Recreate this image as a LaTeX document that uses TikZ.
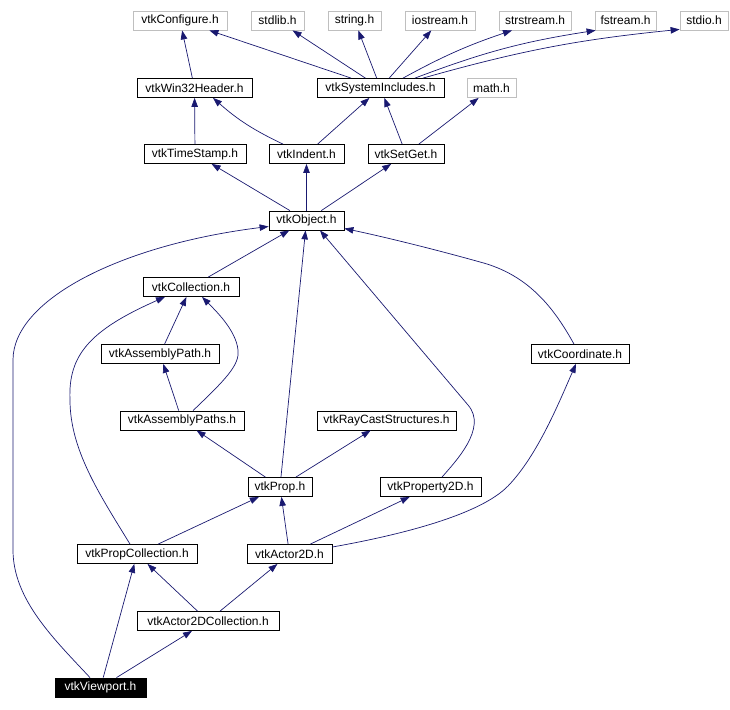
\documentclass[tikz,border=0pt]{standalone}
\usepackage{fontspec}
\setmainfont{Liberation Sans}
\usetikzlibrary{arrows.meta}
\definecolor{edgeblue}{RGB}{25,25,112}
\definecolor{sysgray}{RGB}{191,191,191}

\begin{document}
\begin{tikzpicture}[x=1pt, y=-1pt,
    hdr/.style={draw=black, fill=white, line width=0.8pt, inner sep=0pt,
                minimum height=19pt, font=\fontsize{12pt}{14pt}\selectfont},
    sys/.style={hdr, draw=sysgray},
    self/.style={hdr, fill=black, text=white},
    dep/.style={draw=edgeblue, line width=0.7pt, -{Triangle[length=9pt,width=6.5pt]}}]
    % Fix the page size
    \useasboundingbox (0,0) rectangle (730,709);

    % Define row heights
    \pgfmathsetmacro{\rowA}{20.5}
    \pgfmathsetmacro{\rowB}{88}
    \pgfmathsetmacro{\rowC}{154}
    \pgfmathsetmacro{\rowD}{220.5}

    % System headers
    \node[sys, minimum width=94pt] (cfg) at (180,\rowA) {vtkConfigure.h};
    \node[sys, minimum width=53pt] (stdlib) at (277.5,\rowA) {stdlib.h};
    \node[sys, minimum width=53pt] (string) at (354.5,\rowA) {string.h};
    \node[sys, minimum width=70pt] (iostream) at (440,\rowA) {iostream.h};
    \node[sys, minimum width=72pt] (strstream) at (535,\rowA) {strstream.h};
    \node[sys, minimum width=61pt] (fstream) at (625.5,\rowA) {fstream.h};
    \node[sys, minimum width=48pt] (stdio) at (704,\rowA) {stdio.h};
    \node[sys, minimum width=49pt] (math) at (491.5,\rowB) {math.h};

    % Upper headers
    \node[hdr, minimum width=115pt] (w32) at (194.5,\rowB) {vtkWin32Header.h};
    \node[hdr, minimum width=127pt] (si) at (380.5,\rowB) {vtkSystemIncludes.h};
    \node[hdr, minimum width=102pt] (ts) at (195,\rowC) {vtkTimeStamp.h};
    \node[hdr, minimum width=75pt] (ind) at (306.5,\rowC) {vtkIndent.h};
    \node[hdr, minimum width=76pt] (sg) at (406,\rowC) {vtkSetGet.h};
    \node[hdr, minimum width=75pt] (obj) at (306.5,\rowD) {vtkObject.h};

    % Lower headers
    \node[hdr, minimum width=96pt] (col) at (191,287) {vtkCollection.h};
    \node[hdr, minimum width=118pt] (ap) at (160,354) {vtkAssemblyPath.h};
    \node[hdr, minimum width=98pt] (coord) at (580,354) {vtkCoordinate.h};
    \node[hdr, minimum width=124pt] (aps) at (182,420.5) {vtkAssemblyPaths.h};
    \node[hdr, minimum width=139pt] (rcs) at (386.5,420.5) {vtkRayCastStructures.h};
    \node[hdr, minimum width=64pt] (prop) at (280,487) {vtkProp.h};
    \node[hdr, minimum width=101pt] (p2d) at (430.5,487) {vtkProperty2D.h};
    \node[hdr, minimum width=120pt] (pc) at (137,554) {vtkPropCollection.h};
    \node[hdr, minimum width=85pt] (a2d) at (289.5,554) {vtkActor2D.h};
    \node[hdr, minimum width=142pt] (a2dc) at (208,621) {vtkActor2DCollection.h};
    \node[self, minimum width=91pt] (vp) at (100.5,687.5) {vtkViewport.h};

    % Top includes
    \draw[dep] (w32) -- (cfg);
    \draw[dep] (si) -- (cfg);
    \draw[dep] (si) -- (stdlib);
    \draw[dep] (si) -- (string);
    \draw[dep] (si) -- (iostream);
    \draw[dep] ([xshift=22.5pt]si.north) to[bend left=5] ([xshift=-23pt]strstream.south);
    \draw[dep] ([xshift=34.5pt]si.north) to[bend left=6] ([xshift=1pt]fstream.south west);
    \draw[dep] ([xshift=42.5pt]si.north) to[bend left=5] ([yshift=1pt]stdio.south west);
    \draw[dep] (ts) -- (w32);
    \draw[dep] ([xshift=-23.5pt]ind.north) to[bend left=8] ([xshift=18.5pt]w32.south);
    \draw[dep] (ind) -- (si);
    \draw[dep] (sg) -- (si);
    \draw[dep] (sg) -- (math);
    \draw[dep] (obj) -- (ts);
    \draw[dep] (obj) -- (ind);
    \draw[dep] (obj) -- (sg);

    % Includes of vtkObject.h
    \draw[dep] (col) -- (obj);
    \draw[dep] (prop) -- (obj);
    \draw[dep] ([xshift=-10.5pt]vp.north) .. controls (55,640) and (13,600) .. (13,550)
        -- (13,360) .. controls (13,300) and (120,245) .. ([yshift=-6pt]obj.west);
    \draw[dep] ([xshift=11.5pt]p2d.north) .. controls (455,462) and (488,428) .. (468,405)
        -- ([xshift=13.5pt]obj.south);
    \draw[dep] ([xshift=-6pt]coord.north) .. controls (555,310) and (530,275) .. (480,262)
        .. controls (430,248) and (380,236) .. ([yshift=-8pt]obj.east);

    % Collections and paths
    \draw[dep] (ap) -- (col);
    \draw[dep] ([xshift=11pt]aps.north) .. controls (225,380) and (240,365) .. (238,350)
        .. controls (236,330) and (215,310) .. ([xshift=11pt]col.south);
    \draw[dep] ([xshift=-7pt]pc.north) .. controls (100,495) and (70,450) .. (70,400)
        .. controls (68,355) and (90,330) .. ([xshift=-26pt]col.south);
    \draw[dep] (aps) -- (ap);

    % Props and actors
    \draw[dep] (prop) -- (aps);
    \draw[dep] (prop) -- (rcs);
    \draw[dep] (pc) -- (prop);
    \draw[dep] (a2d) -- (prop);
    \draw[dep] (a2d) -- (p2d);
    \draw[dep] ([yshift=7pt]a2d.east) .. controls (400,535) and (480,515) .. (508,486)
        .. controls (538,455) and (560,400) .. ([xshift=-4pt]coord.south);
    \draw[dep] (a2dc) -- (pc);
    \draw[dep] (a2dc) -- (a2d);
    \draw[dep] (vp) -- (pc);
    \draw[dep] (vp) -- (a2dc);
\end{tikzpicture}
\end{document}
